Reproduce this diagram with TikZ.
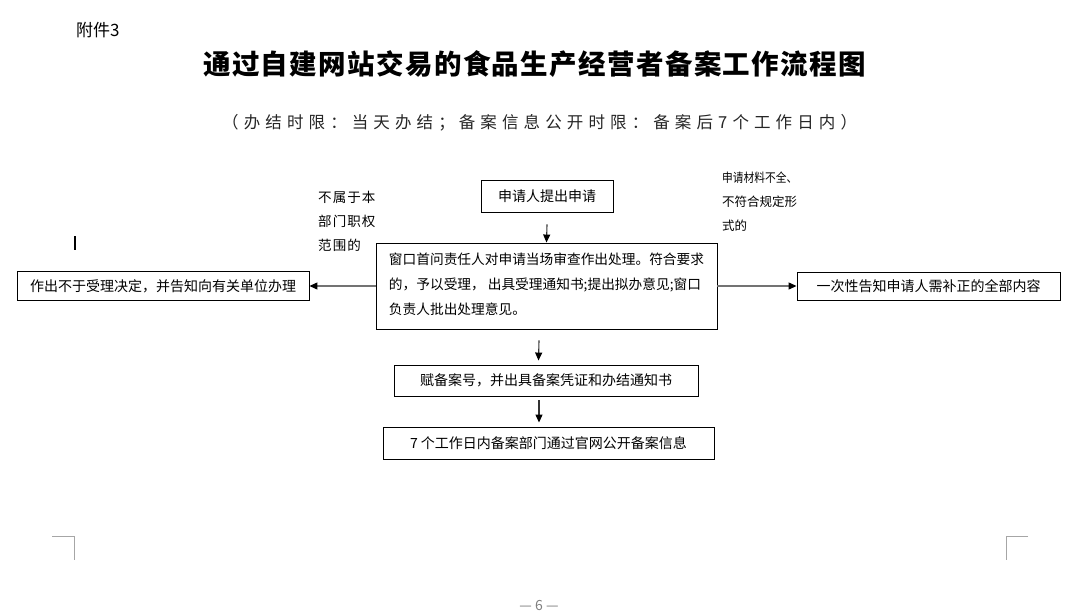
\documentclass[tikz,border=0pt]{standalone}
\usepackage{fontspec}
\setmainfont{Noto Sans CJK SC}
\newfontfamily\cjk{Noto Sans CJK SC}
\usetikzlibrary{arrows.meta}
\begin{document}
\begin{tikzpicture}[x=1pt,y=-1pt,
  box/.style={draw=black, line width=0.9pt, inner sep=0pt, font=\cjk\fontsize{14}{16}\selectfont},
  lbl/.style={inner sep=0pt, align=left, anchor=north west},
  arr/.style={line width=1.1pt, draw=black!80, -{Triangle[length=8pt,width=7pt,color=black]}},
  harr/.style={line width=1.2pt, draw=black!55, -{Triangle[length=8pt,width=7pt,color=black]}},
  corner/.style={draw=black!35, line width=0.9pt}
]
\useasboundingbox (0,0) rectangle (1075,610);
\fill[white] (0,0) rectangle (1075,610);

% header
\node[inner sep=0pt, anchor=west, font=\cjk\fontsize{17}{18}\selectfont] (att) at (76,30) {附件3};
\node[inner sep=0pt, anchor=west, font=\cjk\bfseries\fontsize{27.5}{30}\selectfont\addfontfeatures{LetterSpace=5}] (title) at (203,64) {通过自建网站交易的食品生产经营者备案工作流程图};
\node[inner sep=0pt, anchor=west, text=black!85, font=\cjk\fontsize{16.5}{18}\selectfont\addfontfeatures{LetterSpace=31}] (sub) at (222,123) {（办结时限：当天办结；\hspace{4pt}备案信息公开时限：备案后7个工作日内）};

% boxes
\node[box, minimum width=132pt, minimum height=32pt] (apply) at (547,196) {申请人提出申请};
\node[box, minimum width=341pt, minimum height=86pt, align=left, inner xsep=9pt,
      font=\cjk\fontsize{13.7}{25}\selectfont] (big) at (546.5,286)
  {窗口首问责任人对申请当场审查作出处理。符合要求\\的，予以受理，\hspace{3pt}出具受理通知书;提出拟办意见;窗口\\负责人批出处理意见。\rule[-5pt]{0pt}{5pt}};
\node[box, minimum width=292pt, minimum height=29pt] (left) at (163,286) {作出不于受理决定，并告知向有关单位办理};
\node[box, minimum width=263pt, minimum height=28pt] (right) at (928.5,286.5) {一次性告知申请人需补正的全部内容};
\node[box, minimum width=304pt, minimum height=31pt] (assign) at (546,380.5) {赋备案号，并出具备案凭证和办结通知书};
\node[box, minimum width=331pt, minimum height=32pt] (publish) at (548.5,443) {7\hspace{3pt}个工作日内备案部门通过官网公开备案信息};

% side labels
\node[lbl, font=\cjk\fontsize{13.5}{24}\selectfont\addfontfeatures{LetterSpace=8}] (lblL) at (318,191) {不属于本\\部门职权\\范围的};
\node[lbl, font=\cjk\fontsize{12.5}{24}\selectfont] (lblR) at (722,172) {\scalebox{0.86}[1]{申请材料不全、}\\不符合规定形\\式的};

% connectors
\draw[arr] ([yshift=-12pt]apply.south) -- (big.north);
\draw[harr] (big.west) -- (big.west -| left.east);
\draw[harr] (big.east) -- (big.east -| right.west);
\draw[arr] ([xshift=-7.5pt,yshift=-11pt]big.south) -- ([xshift=-7.5pt,yshift=4pt]assign.north);
\draw[arr] ([xshift=-7pt,yshift=-4pt]assign.south) -- ([xshift=-9.5pt,yshift=4pt]publish.north);

% cursor bar
\draw[line width=1.5pt] (75,236) -- (75,250);

% page corner marks
\draw[corner] (52,536) -- (74.5,536) -- (74.5,560);
\draw[corner] (1028,536) -- (1006.5,536) -- (1006.5,560);

% page number
\node[inner sep=0pt, text=black!50, font=\cjk\fontsize{14}{16}\selectfont] (pnum) at (539,605) {— 6 —};
\end{tikzpicture}
\end{document}
